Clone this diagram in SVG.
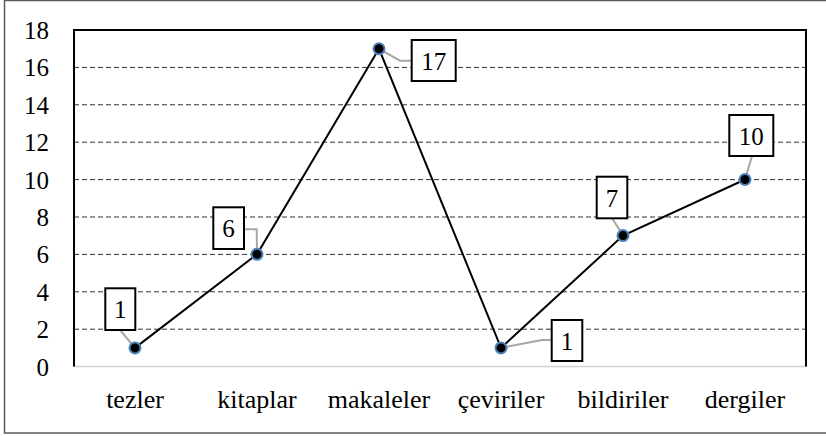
<svg xmlns="http://www.w3.org/2000/svg" width="826" height="436" viewBox="0 0 826 436">
<style>
text{font-family:"Liberation Serif","Times New Roman",serif;fill:#000}
.ax{font-size:25px;text-anchor:end}
.cat{font-size:26px;text-anchor:middle}
.grid{stroke:#333;stroke-width:1;stroke-dasharray:5 3;fill:none}
.lbl rect{fill:#fff;stroke:#000;stroke-width:2}
.lbl text{font-size:25px;text-anchor:middle}
.lead{stroke:#a6a6a6;stroke-width:2;fill:none}
.pt{fill:#000;stroke:#4f81bd;stroke-width:2}
</style>
<rect x="0" y="0" width="826" height="436" fill="#fff"/>
<rect x="4.5" y="0.5" width="830" height="432.5" fill="none" stroke="#595959" stroke-width="1.5"/>
<g id="axes">
<g class="grid">
<line x1="74" y1="67.4" x2="806" y2="67.4"/>
<line x1="74" y1="104.8" x2="806" y2="104.8"/>
<line x1="74" y1="142.2" x2="806" y2="142.2"/>
<line x1="74" y1="179.6" x2="806" y2="179.6"/>
<line x1="74" y1="217" x2="806" y2="217"/>
<line x1="74" y1="254.4" x2="806" y2="254.4"/>
<line x1="74" y1="291.8" x2="806" y2="291.8"/>
<line x1="74" y1="329.2" x2="806" y2="329.2"/>
</g>
<line x1="74" y1="366.6" x2="806" y2="366.6" stroke="#d0d0d0" stroke-width="1.5"/>
<polyline points="74,366.6 74,30 806,30 806,366.6" fill="none" stroke="#000" stroke-width="2"/>
<g class="ax">
<text x="49" y="39">18</text>
<text x="49" y="76.4">16</text>
<text x="49" y="113.8">14</text>
<text x="49" y="151.2">12</text>
<text x="49" y="188.6">10</text>
<text x="49" y="226">8</text>
<text x="49" y="263.4">6</text>
<text x="49" y="300.8">4</text>
<text x="49" y="338.2">2</text>
<text x="49" y="375.6">0</text>
</g>
<g class="cat">
<text x="135" y="408">tezler</text>
<text x="257" y="408">kitaplar</text>
<text x="379" y="408">makaleler</text>
<text x="501" y="408">çeviriler</text>
<text x="623" y="408">bildiriler</text>
<text x="745" y="408">dergiler</text>
</g>
</g>
<g id="connectors">
<polyline points="135,347.9 257,254.3 379,48.8 501,347.9 623,235.6 745,179.5" fill="none" stroke="#000" stroke-width="2"/>
<g class="lead">
<line x1="120" y1="330" x2="135" y2="347.9"/>
<polyline points="244,229.3 256.7,229.3 257,254.3"/>
<polyline points="379,48.8 400,60.7 412,60.7"/>
<polyline points="501,347.9 541.7,340 552,340"/>
<line x1="612" y1="218" x2="623" y2="235.6"/>
<line x1="752" y1="156" x2="745" y2="179.5"/>
</g>
</g>
<g id="tezler"><circle class="pt" cx="135" cy="347.9" r="5.5"/><g class="lbl"><rect x="105.3" y="288.3" width="30" height="41.7"/><text x="120.3" y="318">1</text></g></g>
<g id="kitaplar"><circle class="pt" cx="257" cy="254.3" r="5.5"/><g class="lbl"><rect x="213.3" y="207.3" width="30.7" height="41.7"/><text x="228.6" y="237">6</text></g></g>
<g id="makaleler"><circle class="pt" cx="379" cy="48.8" r="5.5"/><g class="lbl"><rect x="411.7" y="40" width="44" height="41"/><text x="433.7" y="69.5">17</text></g></g>
<g id="ceviriler"><circle class="pt" cx="501" cy="347.9" r="5.5"/><g class="lbl"><rect x="551.7" y="320" width="30.6" height="41"/><text x="567" y="349.5">1</text></g></g>
<g id="bildiriler"><circle class="pt" cx="623" cy="235.6" r="5.5"/><g class="lbl"><rect x="596.7" y="176.7" width="30.6" height="41.6"/><text x="612" y="206.5">7</text></g></g>
<g id="dergiler"><circle class="pt" cx="745" cy="179.5" r="5.5"/><g class="lbl"><rect x="729.3" y="115" width="44" height="41"/><text x="751.3" y="144.5">10</text></g></g>
</svg>
